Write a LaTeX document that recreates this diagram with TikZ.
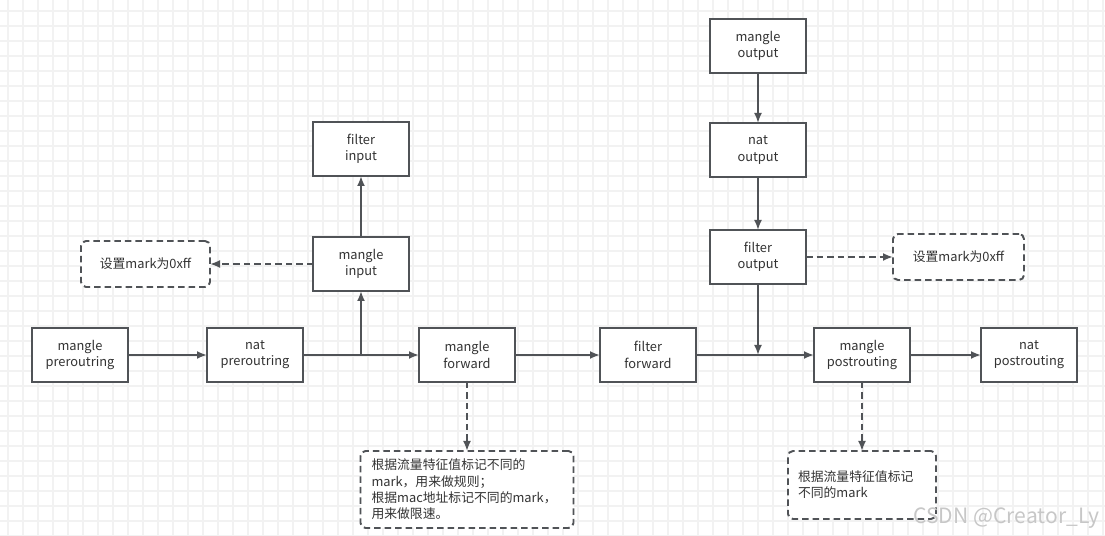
\documentclass[tikz,border=0pt]{standalone}
\usepackage{fontspec}
\setmainfont{Noto Sans CJK SC}
\usetikzlibrary{arrows.meta, positioning, calc}
\definecolor{boxline}{HTML}{505357}
\definecolor{txt}{HTML}{333333}

\begin{document}
\begin{tikzpicture}
    [
        font=\fontsize{7.3pt}{9.25pt}\selectfont,
        node distance=1.5cm,
        hook/.style  ={rectangle, draw=boxline, line width=1.1pt, fill=white,
                       text=txt, align=center, minimum width=1.92cm,
                       minimum height=1.08cm, inner sep=1pt, outer sep=0pt},
        note/.style  ={rectangle, draw=boxline, line width=1.1pt, fill=white,
                       dashed, dash pattern=on 0.13cm off 0.08cm,
                       rounded corners=0.1cm, text=txt, inner sep=1pt,
                       outer sep=0pt},
        oarc/.style  ={-{Latex[length=2mm,width=1.6mm]}, draw=boxline,
                       line width=1.1pt},
        darc/.style  ={oarc, dash pattern=on 0.13cm off 0.08cm},
        gridline/.style ={draw=black!5, line width=0.8pt},
        wmark/.style ={text=black!22, font=\fontsize{12pt}{14pt}\selectfont,
                       inner sep=0pt}
    ]

    \useasboundingbox (0,0) rectangle (22.1,-10.72);
    \fill[white] (0,0) rectangle (22.1,-10.72);
    \begin{scope}
        \clip (0,0) rectangle (22.1,-10.72);
        \draw[gridline, shift={(0.16,-0.22)}, step=0.3] (-0.3,0.3) grid (22.2,-10.8);
    \end{scope}

    % main chain
    \node[hook]     (mpre)  at (1.6,-7.1)        {mangle\\preroutring};
    \node[hook]     (npre)  [right=1.58cm of mpre]  {nat\\preroutring};
    \node[hook]     (mfwd)  [right=2.32cm of npre]  {mangle\\forward};
    \node[hook]     (ffwd)  [right=1.7cm of mfwd]   {filter\\forward};
    \node[hook]     (mpost) [right=2.36cm of ffwd]  {mangle\\postrouting};
    \node[hook]     (npost) [right=1.42cm of mpost] {nat\\postrouting};

    % input branch
    \coordinate     (jin)   at ($(npre.east)!0.5!(mfwd.west)$);
    \coordinate     (jintop) at (jin |- npre.north);
    \node[hook]     (min)   [above=0.74cm of jintop] {mangle\\input};
    \node[hook]     (fin)   [above=1.22cm of min]    {filter\\input};
    \node[note, minimum width=2.58cm, minimum height=0.92cm]
                    (nin)   [left=2.06cm of min]     {设置mark为0xff};

    % output branch
    \coordinate     (jout)  at ($(ffwd.east)!0.5!(mpost.west) + (0.06,0)$);
    \coordinate     (jouttop) at (jout |- ffwd.north);
    \node[hook]     (fout)  [above=0.88cm of jouttop] {filter\\output};
    \node[hook]     (nout)  [above=1.06cm of fout]    {nat\\output};
    \node[hook]     (mout)  [above=1.0cm of nout]     {mangle\\output};
    \node[note, minimum width=2.62cm, minimum height=0.92cm]
                    (nout2) [right=1.74cm of fout]    {设置mark为0xff};

    % marking notes
    \node[note, minimum width=4.26cm, minimum height=1.54cm, align=left,
          text width=3.82cm]
                    (nfwd)  [below=1.38cm of mfwd]
                    {根据流量特征值标记不同的\\mark，用来做规则；\\根据mac地址标记不同的mark，\\用来做限速。};
    \node[note, minimum width=2.96cm, minimum height=1.36cm, align=left,
          text width=2.56cm]
                    (npst)  [below=1.38cm of mpost]
                    {根据流量特征值标记\\不同的mark};

    \draw[oarc]     (mpre) to (npre);
    \draw[oarc]     (npre) to (mfwd);
    \draw[oarc]     (jin) to (min);
    \draw[oarc]     (min) to (fin);
    \draw[darc]     (min) to (nin);

    \draw[oarc]     (mfwd) to (ffwd);
    \draw[oarc]     (ffwd) to (mpost);
    \draw[oarc]     (mpost) to (npost);

    \draw[oarc]     (mout) to (nout);
    \draw[oarc]     (nout) to (fout);
    \draw[oarc]     (fout) to (jout);
    \draw[darc]     (fout) to (nout2);

    \draw[darc]     (mfwd) to (nfwd);
    \draw[darc]     (mpost) to (npst);

    \node[wmark, anchor=south east] (wm) at (22.0,-10.58) {CSDN @Creator\_Ly};

\end{tikzpicture}
\end{document}
